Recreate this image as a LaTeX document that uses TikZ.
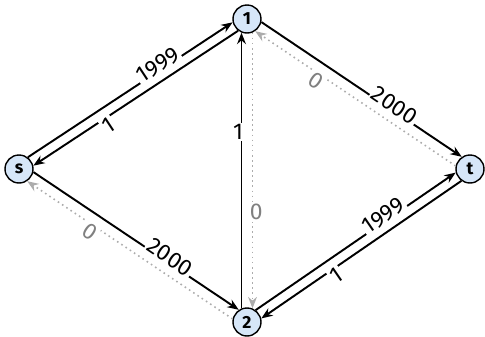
\documentclass[tikz,border=0pt]{standalone}
\usepackage{fontspec}
\setsansfont{Fira Sans}
\usetikzlibrary{arrows.meta}
\definecolor{nodeblue}{RGB}{214,230,248}

\begin{document}
\begin{tikzpicture}[
		x=0.02cm, y=-0.02cm,
		>={Stealth[length=6.5pt,width=5pt]},
		font=\sffamily,
		vertex/.style={
			circle,
			draw,
			line width=0.8pt,
			fill=nodeblue,
			minimum size=0.56cm,
			inner sep=0pt,
			font=\sffamily\bfseries\fontsize{10}{11}\selectfont
		},
		flow/.style={
			->,
			line width=1.1pt
		},
		residual/.style={
			->,
			draw=gray!65,
			dotted,
			line width=0.9pt
		},
		weight/.style={
			fill=white,
			inner sep=1pt,
			font=\sffamily\fontsize{13}{15}\selectfont
		},
		zero/.style={
			weight,
			text=gray
		}
		]

		\useasboundingbox (0,0) rectangle (485,336);

		%------------------------------------------------
		% VERTICES
		%------------------------------------------------

		\node[vertex] (v1) at (247,19) {1};
		\node[vertex] (vs) at (19,169) {s};
		\node[vertex] (vt) at (470,169) {t};
		\node[vertex] (v2) at (247,322) {2};

		%------------------------------------------------
		% s -- 1
		%------------------------------------------------

		\draw[flow] (vs.53) -- node[weight, sloped, pos=.65, above=-3pt] {1999} (v1.193);
		\draw[flow] (v1.233) -- node[weight, sloped, pos=.655, below=-1.8pt] {1} (vs.13);

		%------------------------------------------------
		% 1 -- t
		%------------------------------------------------

		\draw[flow] (v1.-12) -- node[weight, sloped, pos=.65, above=-3pt] {2000} (vt.124);
		\draw[residual] (vt.168) -- node[zero, sloped, pos=.676, below=-1.8pt] {0} (v1.-56);

		%------------------------------------------------
		% s -- 2
		%------------------------------------------------

		\draw[flow] (vs.-12) -- node[weight, sloped, pos=.65, above=-3pt] {2000} (v2.124);
		\draw[residual] (v2.168) -- node[zero, sloped, pos=.676, below=-1.8pt] {0} (vs.-56);

		%------------------------------------------------
		% 2 -- t
		%------------------------------------------------

		\draw[flow] (v2.54.5) -- node[weight, sloped, pos=.655, above=-3pt] {1999} (vt.194.5);
		\draw[flow] (vt.234.5) -- node[weight, sloped, pos=.646, below=-1.8pt] {1} (v2.14.5);

		%------------------------------------------------
		% 2 -- 1
		%------------------------------------------------

		\draw[flow] (v2.112) -- node[weight, pos=.64, left=-2.4pt] {1} (v1.248);
		\draw[residual] (v1.292) -- node[zero, pos=.65, right=-3pt] {0} (v2.68);

	\end{tikzpicture}
\end{document}
